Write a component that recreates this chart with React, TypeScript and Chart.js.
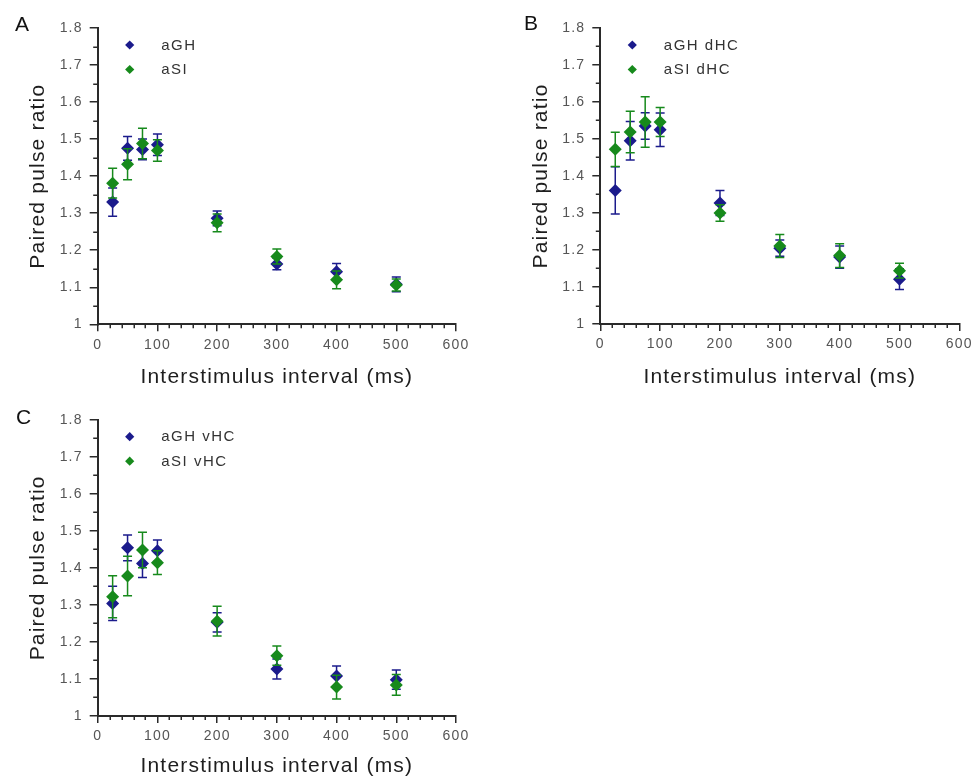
import React, { useEffect, useRef } from 'react';
import { Chart, registerables } from 'chart.js';

Chart.register(...registerables);

// ---------- data ----------
const intervals = [25, 50, 75, 100, 200, 300, 400, 500];

const xTickValues = [0, 100, 200, 300, 400, 500, 600];
const yTickValues = [1, 1.1, 1.2, 1.3, 1.4, 1.5, 1.6, 1.7, 1.8];

// Panel A
const namesA = ['aGH', 'aSI'];
const aGH = [1.330, 1.475, 1.472, 1.485, 1.286, 1.163, 1.142, 1.108];
const aGHErr = [0.038, 0.032, 0.028, 0.029, 0.020, 0.016, 0.022, 0.020];
const aSI = [1.381, 1.432, 1.488, 1.469, 1.274, 1.183, 1.120, 1.106];
const aSIErr = [0.040, 0.042, 0.041, 0.029, 0.024, 0.020, 0.024, 0.016];

// Panel B
const namesB = ['aGH dHC', 'aSI dHC'];
const aGHdHC = [1.361, 1.495, 1.535, 1.525, 1.327, 1.205, 1.181, 1.121];
const aGHdHCErr = [0.064, 0.052, 0.036, 0.045, 0.034, 0.022, 0.030, 0.028];
const aSIdHC = [1.472, 1.519, 1.546, 1.546, 1.300, 1.211, 1.185, 1.144];
const aSIdHCErr = [0.046, 0.056, 0.068, 0.039, 0.022, 0.031, 0.032, 0.020];

// Panel C
const namesC = ['aGH vHC', 'aSI vHC'];
const aGHvHC = [1.304, 1.454, 1.412, 1.446, 1.253, 1.127, 1.108, 1.098];
const aGHvHCErr = [0.046, 0.035, 0.038, 0.029, 0.026, 0.027, 0.027, 0.026];
const aSIvHC = [1.322, 1.378, 1.448, 1.414, 1.256, 1.163, 1.078, 1.084];
const aSIvHCErr = [0.057, 0.053, 0.048, 0.032, 0.040, 0.026, 0.032, 0.028];

const xTitle = 'Interstimulus interval (ms)';
const yTitle = 'Paired pulse ratio';

// ---------- styles ----------
const BLUE = '#1b1b8c';
const GREEN = '#178a1c';
const AXIS = '#2a2a2a';
const FONT = "'Liberation Sans', Arial, sans-serif";

Chart.defaults.font.family = FONT;

const decorPlugin = {
  id: 'decor',
  beforeDraw(chart: any) {
    (chart.ctx as any).letterSpacing = '1.2px';
  },
  afterDatasetDraw(chart: any, args: any) {
    const ds = chart.data.datasets[args.index];
    const errs: number[] = ds.errors;
    if (!errs) return;
    const ctx = chart.ctx;
    const xs = chart.scales.x;
    const ys = chart.scales.y;
    ctx.save();
    ctx.strokeStyle = ds.backgroundColor;
    ctx.lineWidth = 1.5;
    ds.data.forEach((p: any, i: number) => {
      const px = xs.getPixelForValue(p.x);
      const top = ys.getPixelForValue(p.y + errs[i]);
      const bot = ys.getPixelForValue(p.y - errs[i]);
      ctx.beginPath();
      ctx.moveTo(px, top);
      ctx.lineTo(px, bot);
      ctx.moveTo(px - 4.5, top);
      ctx.lineTo(px + 4.5, top);
      ctx.moveTo(px - 4.5, bot);
      ctx.lineTo(px + 4.5, bot);
      ctx.stroke();
    });
    ctx.restore();
  },
  afterDraw(chart: any) {
    const ctx = chart.ctx;
    const xs = chart.scales.x;
    const ys = chart.scales.y;
    const area = chart.chartArea;
    ctx.save();
    ctx.strokeStyle = AXIS;
    ctx.lineWidth = 1.5;
    ctx.beginPath();
    for (let v = 1.05; v < 1.8; v += 0.1) {
      const py = Math.round(ys.getPixelForValue(v)) + 0.25;
      ctx.moveTo(area.left - 4.5, py);
      ctx.lineTo(area.left, py);
    }
    for (let v = 20; v < 600; v += 20) {
      if (v % 100 === 0) continue;
      const px = Math.round(xs.getPixelForValue(v)) + 0.25;
      ctx.moveTo(px, area.bottom);
      ctx.lineTo(px, area.bottom + 4);
    }
    ctx.stroke();

    // legend
    const names: string[] = chart.options.plugins.decor.names;
    const colors = [BLUE, GREEN];
    ctx.font = `15px ${FONT}`;
    ctx.textBaseline = 'middle';
    ctx.textAlign = 'left';
    (ctx as any).letterSpacing = '1.5px';
    names.forEach((n, i) => {
      const cx = area.left + 32;
      const cy = area.top + 17 + i * 24.5;
      const r = 4.6;
      ctx.fillStyle = colors[i];
      ctx.beginPath();
      ctx.moveTo(cx, cy - r);
      ctx.lineTo(cx + r, cy);
      ctx.lineTo(cx, cy + r);
      ctx.lineTo(cx - r, cy);
      ctx.closePath();
      ctx.fill();
      ctx.fillStyle = '#333';
      ctx.fillText(n, area.left + 63.5, cy + 0.5);
    });
    ctx.restore();
  },
};

type PanelProps = {
  left: number;
  top: number;
  width: number;
  height: number;
  yWidth: number;
  xHeight: number;
  padTop: number;
  padRight: number;
  yTitlePad: number;
  names: string[];
  blue: number[];
  blueErr: number[];
  green: number[];
  greenErr: number[];
};

function Panel(p: PanelProps) {
  const ref = useRef<HTMLCanvasElement | null>(null);
  useEffect(() => {
    if (!ref.current) return;
    const mk = (ys: number[]) => intervals.map((x, i) => ({ x, y: ys[i] }));
    const chart = new Chart(ref.current, {
      type: 'scatter',
      data: {
        datasets: [
          {
            label: p.names[0],
            data: mk(p.blue),
            errors: p.blueErr,
            backgroundColor: BLUE,
            borderColor: BLUE,
            borderWidth: 0,
            pointStyle: 'rectRot',
            pointRadius: 6.5,
            order: 1,
          } as any,
          {
            label: p.names[1],
            data: mk(p.green),
            errors: p.greenErr,
            backgroundColor: GREEN,
            borderColor: GREEN,
            borderWidth: 0,
            pointStyle: 'rectRot',
            pointRadius: 6.5,
            order: 0,
          } as any,
        ],
      },
      options: {
        animation: false,
        responsive: false,
        maintainAspectRatio: false,
        layout: { padding: { left: 0, top: p.padTop, right: p.padRight, bottom: 0 } },
        plugins: {
          legend: { display: false },
          tooltip: { enabled: false },
          decor: { names: p.names },
        } as any,
        scales: {
          x: {
            type: 'linear',
            min: 0,
            max: 600,
            afterBuildTicks: (s: any) => {
              s.ticks = xTickValues.map((v) => ({ value: v }));
            },
            afterFit: (s: any) => {
              s.height = p.xHeight;
            },
            grid: {
              display: true,
              drawOnChartArea: false,
              drawTicks: true,
              tickLength: 7,
              color: AXIS,
              lineWidth: 1.5,
            },
            border: { display: true, color: AXIS, width: 2 },
            ticks: {
              color: '#555',
              font: { size: 14 },
              padding: 5,
              maxRotation: 0,
              autoSkip: false,
              callback: (v: any) => String(v),
            },
            title: {
              display: true,
              text: xTitle,
              color: '#1e1e1e',
              font: { size: 21 },
              padding: { top: 0, bottom: 0 },
            },
          },
          y: {
            type: 'linear',
            min: 1,
            max: 1.8,
            afterBuildTicks: (s: any) => {
              s.ticks = yTickValues.map((v) => ({ value: v }));
            },
            afterFit: (s: any) => {
              s.width = p.yWidth;
            },
            grid: {
              display: true,
              drawOnChartArea: false,
              drawTicks: true,
              tickLength: 8,
              color: AXIS,
              lineWidth: 1.5,
            },
            border: { display: true, color: AXIS, width: 2 },
            ticks: {
              color: '#555',
              font: { size: 14 },
              padding: 7,
              autoSkip: false,
              callback: (v: any) => (Math.abs(v - 1) < 1e-9 ? '1' : Number(v).toFixed(1)),
            },
            title: {
              display: true,
              text: yTitle,
              color: '#1e1e1e',
              font: { size: 21 },
              padding: { top: p.yTitlePad, bottom: 0 },
            },
          },
        },
      } as any,
      plugins: [decorPlugin as any],
    });
    return () => chart.destroy();
  }, []);
  return (
    <canvas
      ref={ref}
      width={p.width}
      height={p.height}
      style={{ position: 'absolute', left: p.left, top: p.top, width: p.width, height: p.height }}
    />
  );
}

const letterStyle = (left: number, top: number): React.CSSProperties => ({
  position: 'absolute',
  left,
  top,
  fontFamily: FONT,
  fontSize: 21,
  lineHeight: 1,
  color: '#111',
});

export default function App() {
  return (
    <div
      style={{
        position: 'absolute',
        left: 0,
        top: 0,
        width: 976,
        height: 779,
        background: '#fff',
        overflow: 'hidden',
      }}
    >
      <Panel
        left={0}
        top={0}
        width={480}
        height={390}
        yWidth={97.7}
        xHeight={65.7}
        padTop={28}
        padRight={24}
        yTitlePad={25.5}
        names={namesA}
        blue={aGH}
        blueErr={aGHErr}
        green={aSI}
        greenErr={aSIErr}
      />
      <Panel
        left={502}
        top={0}
        width={474}
        height={390}
        yWidth={98.3}
        xHeight={66}
        padTop={28}
        padRight={16}
        yTitlePad={27}
        names={namesB}
        blue={aGHdHC}
        blueErr={aGHdHCErr}
        green={aSIdHC}
        greenErr={aSIdHCErr}
      />
      <Panel
        left={0}
        top={390}
        width={480}
        height={389}
        yWidth={97.7}
        xHeight={63}
        padTop={29.7}
        padRight={24}
        yTitlePad={25.5}
        names={namesC}
        blue={aGHvHC}
        blueErr={aGHvHCErr}
        green={aSIvHC}
        greenErr={aSIvHCErr}
      />
      <div style={letterStyle(15, 13)}>A</div>
      <div style={letterStyle(524, 12)}>B</div>
      <div style={letterStyle(16, 406)}>C</div>
    </div>
  );
}
